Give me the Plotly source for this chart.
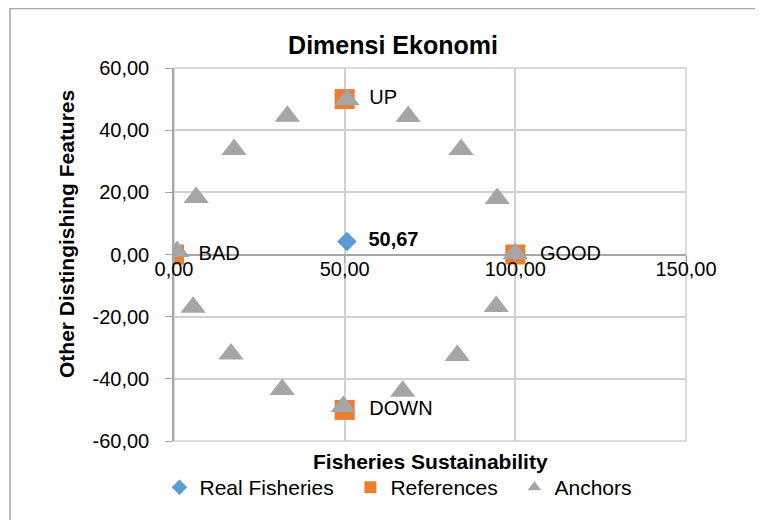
import plotly.graph_objects as go

# datos
real_x = [50.67]
real_y = [4.2]

ref_x = [0, 100, 50, 50]
ref_y = [0, 0, 50, -50]
ref_labels = ["BAD", "GOOD", "UP", "DOWN"]

anchor_x = [0.9, 6.5, 17.6, 33.2, 50.7, 68.6, 84.1, 94.7, 100.0,
            94.4, 83.0, 67.0, 49.6, 31.7, 16.7, 5.6]
anchor_y = [1.0, 18.3, 33.8, 44.5, 49.8, 44.4, 33.8, 18.0, 0.3,
            -16.7, -32.5, -44.0, -48.9, -43.4, -32.0, -17.0]

x_ticks = [0, 50, 100, 150]
y_ticks = [-60, -40, -20, 0, 20, 40, 60]


def fmt(v):
    return f"{v:.2f}".replace(".", ",")


FONT = "Liberation Sans, Arial"
GRID = "#d0d0d0"
AXIS = "#a6a6a6"

fig = go.Figure()

fig.add_trace(go.Scatter(
    x=real_x, y=real_y, mode="markers+text", name="Real Fisheries  ",
    marker=dict(symbol="diamond", size=15, color="#5b9bd5"),
    text=["  <b>" + fmt(v) + "</b>" for v in real_x],
    textposition="middle right", textfont=dict(size=20, color="black"),
))

fig.add_trace(go.Scatter(
    x=ref_x, y=ref_y, mode="markers+text", name="References  ",
    marker=dict(symbol="square", size=20, color="#ed7d31"),
    text=["  " + t for t in ref_labels],
    textposition="middle right", textfont=dict(size=20, color="black"),
))

fig.add_trace(go.Scatter(
    x=anchor_x, y=anchor_y, mode="markers", name="Anchors",
    marker=dict(symbol="triangle-up", size=22, color="#a5a5a5"),
))

# marco exterior del grafico
fig.add_shape(type="rect", xref="paper", yref="paper",
              x0=-0.3203, x1=1.2, y0=-0.3, y1=1.1595,
              line=dict(color=AXIS, width=1.5), layer="below")

# borde del area de trazado
fig.add_shape(type="rect", xref="paper", yref="paper", x0=0, x1=1, y0=0, y1=1,
              line=dict(color=GRID, width=1.5), layer="below")

fig.add_annotation(text="<b>Fisheries Sustainability</b>", xref="paper", yref="paper",
                   x=0.5, y=-0.056, xanchor="center", yanchor="middle",
                   showarrow=False, font=dict(size=21))
fig.add_annotation(text="<b>Other Distingishing Features</b>", xref="paper", yref="paper",
                   x=-0.209, y=0.555, xanchor="center", yanchor="middle", textangle=-90,
                   showarrow=False, font=dict(size=21))

fig.update_layout(
    width=763, height=520,
    paper_bgcolor="white", plot_bgcolor="white",
    margin=dict(l=166, r=85, t=60, b=87, autoexpand=False),
    font=dict(family=FONT, size=20, color="black"),
    title=dict(text="<b>Dimensi Ekonomi</b>", x=385 / 763, xref="container", xanchor="center",
               y=1 - 37 / 520, yref="container", yanchor="middle", font=dict(size=25)),
    showlegend=True,
    legend=dict(orientation="h", x=0.4375, xanchor="center", y=-0.07, yanchor="top",
                font=dict(size=21), itemsizing="constant", tracegroupgap=0,
                itemwidth=30, bgcolor="rgba(0,0,0,0)"),
    xaxis=dict(
        range=[0, 150], tickvals=x_ticks, ticktext=[fmt(v) for v in x_ticks],
        anchor="free", position=0.5, automargin=False,
        showgrid=True, gridcolor=GRID, gridwidth=1.5,
        showline=False, zeroline=False,
        ticks="outside", ticklen=7, tickcolor=AXIS,
        ticklabelstandoff=-11,
        tickfont=dict(size=20),
    ),
    yaxis=dict(
        range=[-60, 60], tickvals=y_ticks, ticktext=[fmt(v) for v in y_ticks],
        automargin=False,
        showgrid=True, gridcolor=GRID, gridwidth=1.5,
        showline=True, linecolor=AXIS, linewidth=1.5,
        zeroline=True, zerolinecolor=AXIS, zerolinewidth=1.5,
        ticks="outside", ticklen=7, tickcolor=AXIS,
        ticklabelstandoff=12,
        tickfont=dict(size=20),
    ),
)

fig.write_html("out.html")
